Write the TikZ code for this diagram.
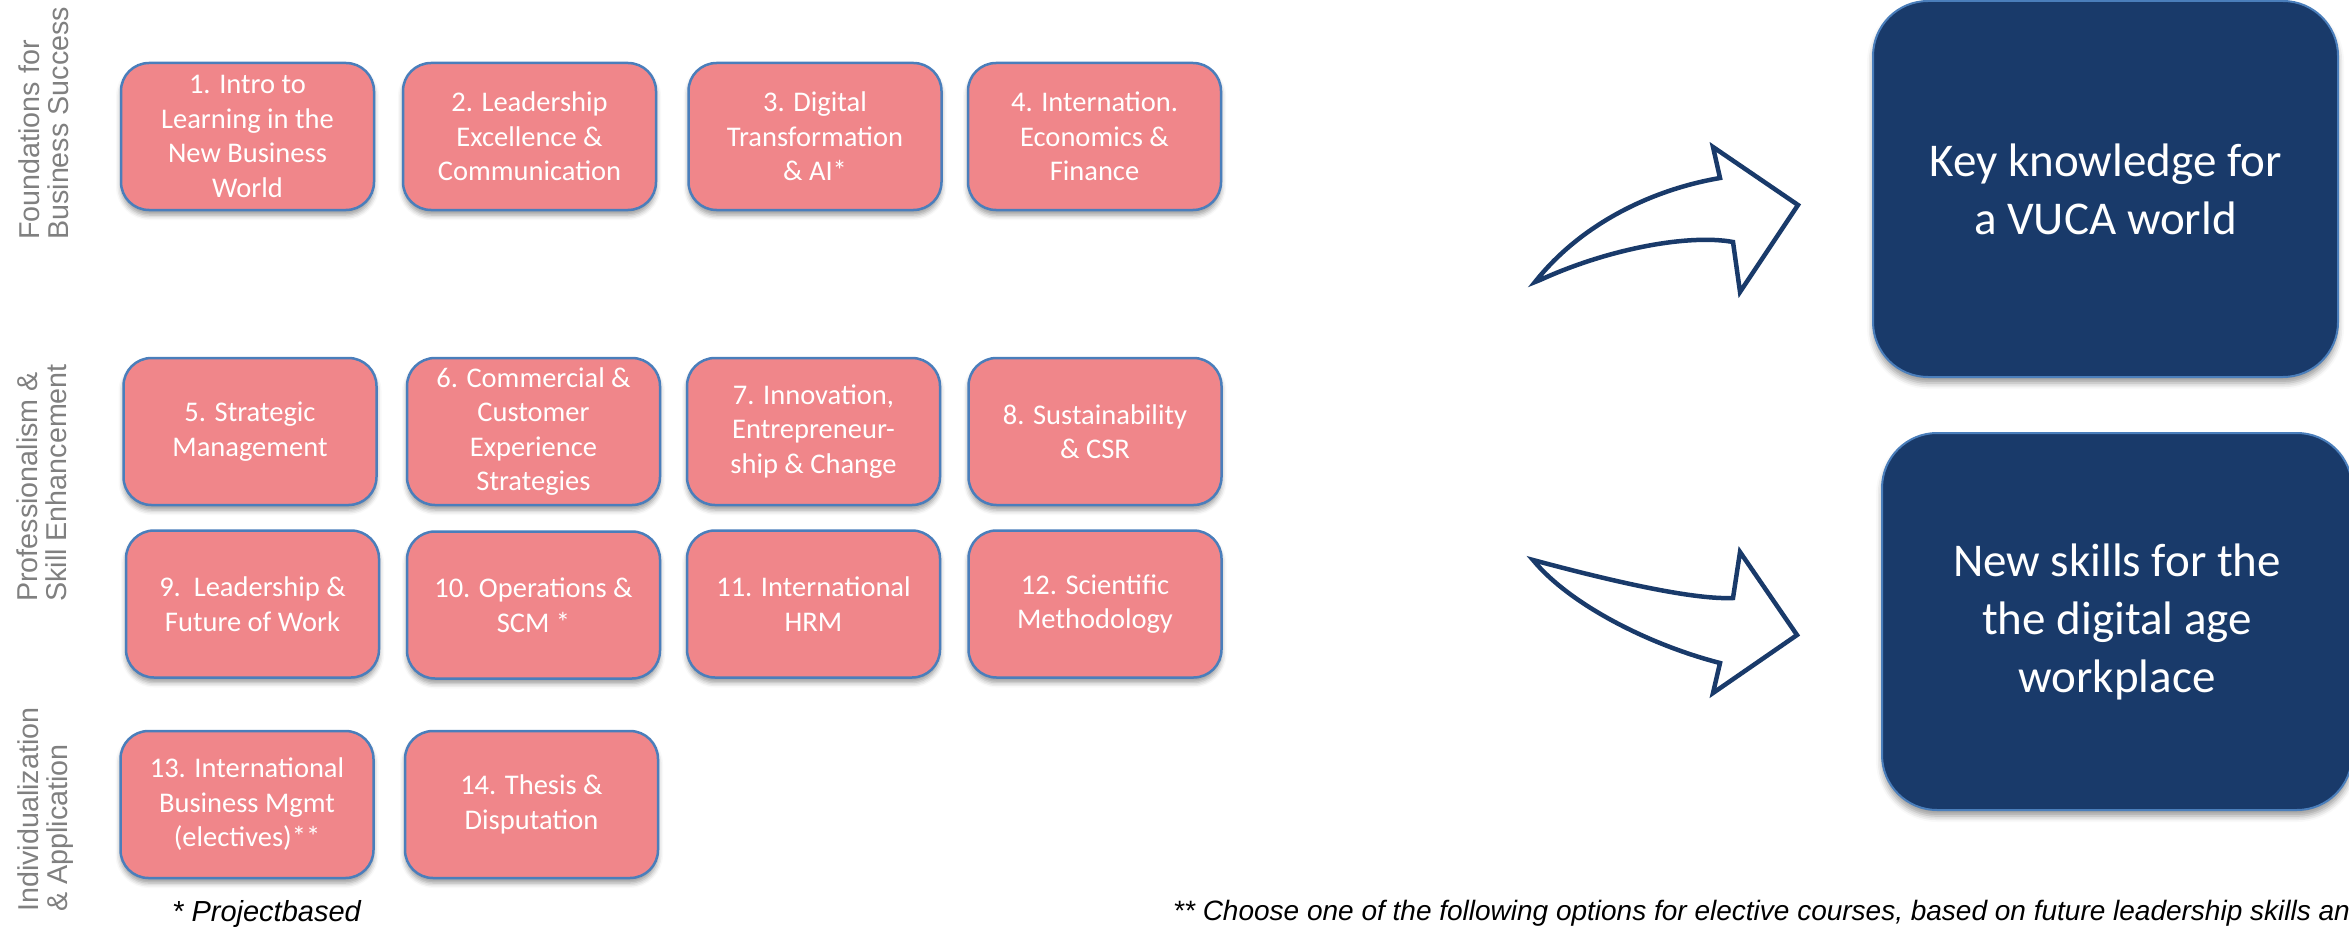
\documentclass[tikz,border=0pt]{standalone}
\usepackage{fontspec}
\setmainfont{Carlito}
\newfontfamily\arialf{Liberation Sans}
\usetikzlibrary{shadows.blur}
\definecolor{coursefill}{HTML}{F0868A}
\definecolor{courseedge}{HTML}{4A7EBB}
\definecolor{navy}{HTML}{193A6A}
\definecolor{labelgray}{HTML}{808080}
\begin{document}
\begin{tikzpicture}[x=1pt,y=-1pt,
  course/.style={draw=courseedge, line width=2.5pt, fill=coursefill, rounded corners=28pt,
    text=white, align=center, font=\fontsize{28.5}{34.5}\selectfont, inner sep=0pt,
    minimum width=253pt, minimum height=147pt,
    blur shadow={shadow xshift=0pt, shadow yshift=-5pt, shadow blur radius=5pt, shadow opacity=40}},
  goal/.style={draw=courseedge, line width=2pt, fill=navy, rounded corners=55pt,
    text=white, align=center, font=\fontsize{47}{58}\selectfont, inner sep=0pt,
    blur shadow={shadow xshift=0pt, shadow yshift=-6pt, shadow blur radius=6pt, shadow opacity=40}},
  sidelabel/.style={rotate=90, anchor=west, align=left, text=labelgray,
    font=\arialf\fontsize{28.7}{29}\selectfont, inner sep=0pt},
  note/.style={anchor=base west, inner sep=0pt, text=black},
  bigarrow/.style={draw=navy, line width=4.5pt, fill=white, line join=miter}]
\useasboundingbox (0,0) rectangle (2349,928);

% side labels
\node[sidelabel] (l1) at (44,240) {Foundations for\\Business Success};
\node[sidelabel] (l2) at (42,602) {Professionalism \&\\Skill Enhancement};
\node[sidelabel] (l3) at (46,912) {Individualization\\\& Application};

% row 1
\node[course] (c1) at (247.5,136.5) {1. Intro to\\Learning in the\\New Business\\World};
\node[course] (c2) at (529.5,136.5) {2. Leadership\\Excellence \&\\Communication};
\node[course] (c3) at (815,136.5) {3. Digital\\Transformation\\\& AI*};
\node[course] (c4) at (1094.5,136.5) {4. Internation.\\Economics \&\\Finance};
% row 2
\node[course] (c5) at (250,431.5) {5. Strategic\\Management};
\node[course] (c6) at (533.5,431.5) {6. Commercial \&\\Customer\\Experience\\Strategies};
\node[course] (c7) at (813.5,431.5) {7. Innovation,\\Entrepreneur-\\ship \& Change};
\node[course] (c8) at (1095,431.5) {8. Sustainability\\\& CSR};
% row 3
\node[course] (c9) at (252.5,604) {9.\ \ Leadership \&\\Future of Work};
\node[course] (c10) at (533.5,605) {10. Operations \&\\SCM *};
\node[course] (c11) at (813.5,604) {11. International\\HRM};
\node[course] (c12) at (1095,604) {12. Scientific\\Methodology};
% row 4
\node[course] (c13) at (247,804.5) {13. International\\Business Mgmt\\(electives)**};
\node[course] (c14) at (531.5,804.5) {14. Thesis \&\\Disputation};

% goals
\node[goal, minimum width=465pt, minimum height=376pt] (g1) at (2105.5,189) {Key knowledge for\\a VUCA world};
\node[goal, minimum width=470pt, minimum height=377pt] (g2) at (2117,621.5) {New skills for the\\the digital age\\workplace};

% arrows
\draw[bigarrow] (1535,282) .. controls (1580,225) and (1650,190) .. (1720,178)
  -- (1713,147) -- (1798,205) -- (1740,292) -- (1733,242)
  .. controls (1690,234) and (1610,248) .. (1540,280) -- cycle;
\draw[bigarrow] (1533,560) .. controls (1600,578) and (1690,600) .. (1733,598)
  -- (1740,552) -- (1797,635) -- (1713,693) -- (1720,663)
  .. controls (1650,645) and (1570,605) .. (1533,560) -- cycle;

% notes
\node[note, font=\arialf\itshape\fontsize{29}{34}\selectfont] (pb) at (172,921) {* Projectbased};
\node[note, font=\arialf\itshape\fontsize{28}{34}\selectfont] (fn) at (1173,920) {** Choose one of the following options for elective courses, based on future leadership skills an};
\end{tikzpicture}
\end{document}
